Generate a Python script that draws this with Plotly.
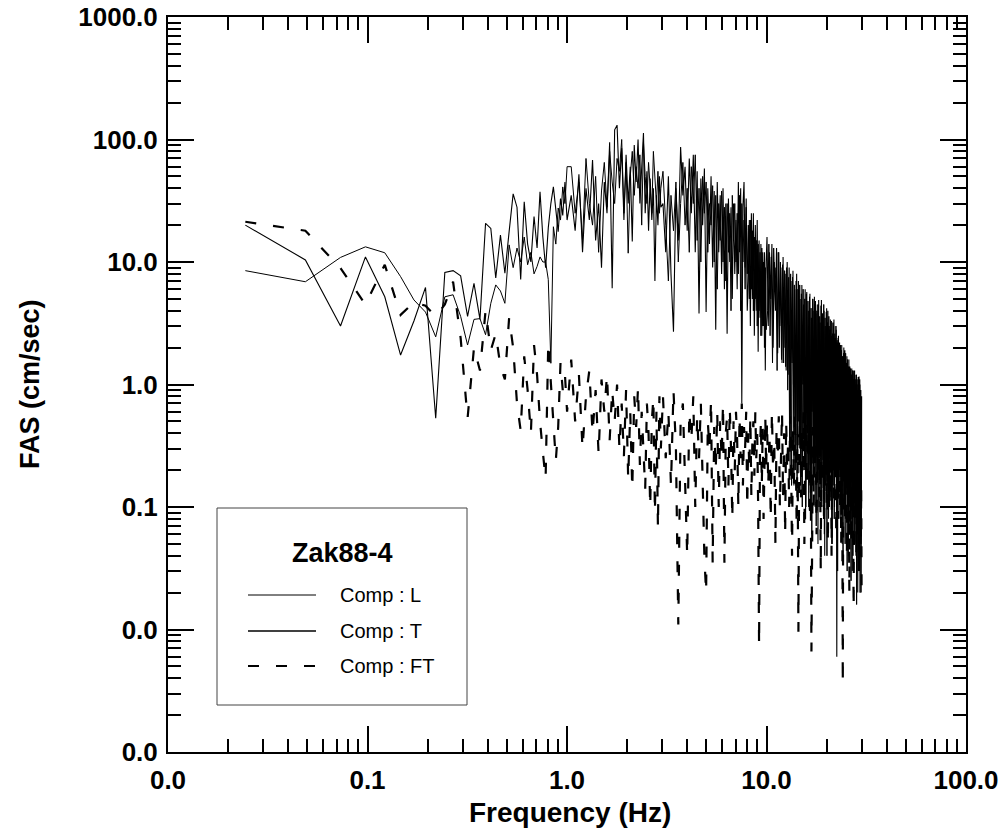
import plotly.graph_objects as go

# ---------------- data ----------------
DF = 1 / 40.96  # FFT frequency step (Hz)

# frequency-bin indices of the sampled spectral points
IDX_1 = list(range(1, 42))          # 0.024 - 1.0 Hz
IDX_2 = list(range(43, 122, 2))     # 1.05 - 2.95 Hz
IDX_3 = list(range(124, 409, 4))    # 3.0 - 9.96 Hz
IDX_4 = list(range(412, 1229, 6))   # 10 - 30 Hz
IDX_4B = list(range(415, 1226, 6))  # 10 - 30 Hz (offset bins)

# Comp : T  (cm/sec)
T_1 = [20, 10.4, 3.0, 11, 5.2, 1.74, 3.3, 6.2, 0.53, 8.2, 8.5, 7.7, 3.6, 6.7, 3.4,
       20.7, 18.8, 7.4, 16.6, 8.1, 17.7, 36, 28, 7.2, 31, 14, 10, 23.5, 13, 37.5,
       16, 9, 19, 30, 41, 28, 17.7, 33, 24, 45, 22]
T_2 = [35, 18, 52, 12, 40, 22, 68, 15, 30, 9,
       45, 25, 95, 6.1, 120, 131, 40, 85, 22, 75,
       30, 60, 14.7, 90, 45, 100, 30, 70, 113, 25,
       55, 18, 48, 22, 40, 7, 35, 20, 50, 28]
T_3 = [30, 12, 50, 8, 2.7, 40, 15, 87, 35, 60, 18, 70, 25, 75, 12, 55,
       3.8, 48, 20, 58, 3.9, 40, 14, 50, 9, 38, 2.8, 45, 12, 35, 8, 40,
       6, 30, 2.6, 33, 10, 28, 5, 30, 8, 22, 6, 45, 12, 40, 0.7, 28,
       45, 9, 33, 4, 7, 22, 3, 25, 5, 25, 2.5, 20, 4, 22, 1.85, 15,
       3.5, 14, 2.5, 12, 3, 12, 1.3, 10]
T_4 = [16, 3, 12, 5, 14, 2, 10, 4, 13, 1.8,
       12, 3, 9, 1.5, 11, 2, 8, 1.3, 10, 1.2,
       9, 0.2, 7, 1.5, 8.5, 0.15, 6, 0.5, 8, 0.25,
       7, 0.3, 5, 0.12, 6.5, 1, 4.5, 0.2, 6, 0.1,
       5.7, 0.4, 4, 0.15, 5.5, 0.08, 3.5, 0.6, 5, 0.2,
       5.2, 0.1, 3.8, 0.3, 4.5, 0.05, 4.9, 0.25, 3.2, 0.12,
       4.9, 0.3, 3.5, 0.1, 4, 0.04, 3, 0.2, 4.2, 0.15,
       4, 0.08, 3, 0.3, 3.4, 0.12, 2.5, 0.05, 3.2, 0.2,
       3.4, 0.1, 2.4, 0.25, 2.8, 0.006, 2.2, 0.15, 2.5, 0.08,
       2.2, 0.3, 1.8, 0.1, 2.1, 0.05, 1.6, 0.2, 2, 0.12,
       1.9, 0.08, 1.5, 0.25, 1.7, 0.1, 1.3, 0.04, 1.6, 0.15,
       1.4, 0.06, 1.2, 0.2, 1.35, 0.03, 1.1, 0.1, 1.3, 0.05,
       1.3, 0.12, 1, 0.04, 1.2, 0.08, 0.9, 0.02, 1.15, 0.1,
       1.16, 0.03, 1, 0.06, 0.9, 0.02, 0.8]

# Comp : L  (cm/sec)
L_1 = [8.5, 6.9, 10.9, 13.3, 11.9, 7.6, 4.9, 3.9, 2.45, 5.2, 5.4, 3.6, 2.1, 3.4,
       3.45, 2.55, 4.6, 6.5, 5.8, 4.6, 13.8, 9, 13, 10, 16, 9.5, 12, 8, 9.2, 11,
       10, 10, 7.2, 1.49, 19.4, 14, 27.6, 22, 41, 30, 60]
L_2 = [60, 25, 45, 15, 70, 30, 20, 50, 12, 38,
       65, 28, 80, 45, 30, 70, 55, 100, 25, 65,
       11.8, 50, 80, 35, 60, 40, 75, 20, 95, 50,
       30, 65, 40, 25, 80, 45, 30, 55, 25, 40]
L_3 = [55, 20, 7, 35, 18, 45, 10, 30, 65, 20, 40, 12, 60, 30, 75, 15,
       40, 10, 50, 25, 45, 12, 30, 20, 42, 10, 35, 6, 30, 15, 38, 10,
       28, 7, 30, 12, 25, 4, 35, 15, 30, 10, 25, 8, 35, 4, 30, 10,
       22, 6, 28, 8, 20, 5, 22, 6, 18, 4, 16, 5, 15, 3, 14, 4,
       12, 2.5, 13, 3, 10, 2, 9, 2.8]
L_4 = [4, 14, 2.5, 11, 1.5, 13, 6, 9, 1.3, 12,
       2, 10, 1.6, 9.5, 1.5, 8.5, 1.4, 9, 0.9, 7.5,
       0.3, 8, 0.15, 7.5, 1, 6.5, 0.2, 7, 0.12, 6,
       0.5, 6.5, 0.15, 5.5, 0.1, 6, 0.3, 5, 0.08, 5.5,
       0.2, 4.8, 0.1, 5.2, 0.35, 4.2, 0.06, 5, 0.15, 4,
       0.25, 4.8, 0.07, 4, 0.18, 4.5, 0.1, 3.6, 0.3, 4.4,
       0.1, 3.8, 0.2, 4.5, 0.06, 3.5, 0.15, 3.9, 0.04, 3.2,
       0.2, 3.6, 0.1, 2.8, 0.25, 3.3, 0.05, 2.6, 0.15, 3,
       0.08, 2.6, 0.2, 3, 0.1, 2.3, 0.03, 2.4, 0.12, 2,
       0.2, 2.1, 0.07, 1.9, 0.15, 1.7, 0.04, 1.8, 0.1, 1.6,
       0.05, 1.8, 0.15, 1.5, 0.03, 1.6, 0.1, 1.4, 0.06, 1.3,
       0.12, 1.35, 0.025, 1.2, 0.08, 1.3, 0.04, 1.1, 0.15, 1.25,
       0.05, 1.1, 0.1, 1.2, 0.016, 1.0, 0.06, 1.1, 0.03, 0.95,
       0.1, 1.1, 0.02, 0.9, 0.05, 0.7]

# Comp : FT  (cm/sec)
FT_1 = [21.3, 18, 8.9, 4.5, 9.5, 3.7, 4.7, 4.4, 3.6, 4.5, 6.9, 2.4, 0.53, 2.0,
        1.3, 4.0, 1.9, 2.6, 1.4, 1.1, 3.5, 2.0, 0.7, 0.42, 1.7, 0.9, 0.4, 2.1,
        1.2, 0.5, 0.28, 0.17, 2.2, 1.0, 0.45, 0.24, 0.45, 1.5, 0.9, 1.2, 0.6]
FT_2 = [1.6, 0.5, 1.2, 0.3, 0.8, 1.3, 0.4, 0.9, 0.27, 1.1,
        0.6, 1.2, 0.35, 0.9, 0.5, 1.0, 0.3, 0.7, 0.26, 0.9,
        0.17, 0.6, 0.14, 0.8, 0.45, 0.95, 0.22, 0.6, 0.3, 0.14,
        0.7, 0.4, 0.1, 0.5, 0.78, 0.09, 0.6, 0.067, 0.8, 0.3]
FT_3 = [0.8, 0.25, 0.6, 0.15, 0.9, 0.3, 0.011, 0.5, 0.7, 0.2,
        0.04, 0.6, 0.35, 0.8, 0.1, 0.55, 0.25, 0.7, 0.15, 0.039,
        0.02, 0.5, 0.3, 0.75, 0.035, 0.45, 0.2, 0.6, 0.1, 0.5,
        0.25, 0.7, 0.035, 0.4, 0.55, 0.15, 0.65, 0.3, 0.08, 0.5,
        0.2, 0.6, 0.35, 0.1, 0.55, 0.25, 0.7, 0.15, 0.45, 0.3,
        0.6, 0.1, 0.4, 0.2, 0.55, 0.12, 0.35, 0.5, 0.18, 0.6,
        0.25, 0.4, 0.1, 0.0074, 0.3, 0.5, 0.15, 0.45, 0.08, 0.35,
        0.55, 0.2]
FT_4 = [0.5, 0.15, 0.4, 0.08, 0.6, 0.2, 0.35, 0.05, 0.45, 0.25,
        0.55, 0.1, 0.3, 0.6, 0.12, 0.4, 0.06, 0.5, 0.2, 0.35,
        0.1, 0.55, 0.25, 0.04, 0.45, 0.15, 0.6, 0.3, 0.07, 0.4,
        0.0096, 0.35, 0.5, 0.12, 0.45, 0.2, 0.6, 0.05, 0.3, 0.5,
        0.15, 0.4, 0.25, 0.55, 0.08, 0.35, 0.0066, 0.3, 0.45, 0.1,
        0.5, 0.2, 0.35, 0.06, 0.4, 0.25, 0.6, 0.12, 0.3, 0.03,
        0.45, 0.15, 0.5, 0.25, 0.07, 0.4, 0.2, 0.55, 0.1, 0.35,
        0.05, 0.45, 0.2, 0.5, 0.12, 0.3, 0.04, 0.4, 0.25, 0.6,
        0.1, 0.35, 0.15, 0.45, 0.06, 0.3, 0.5, 0.08, 0.4, 0.2,
        0.35, 0.1, 0.45, 0.05, 0.3, 0.15, 0.0036, 0.4, 0.2, 0.35,
        0.08, 0.5, 0.15, 0.3, 0.04, 0.45, 0.2, 0.35, 0.06, 0.02,
        0.3, 0.12, 0.4, 0.05, 0.35, 0.1, 0.25, 0.03, 0.015, 0.3,
        0.08, 0.4, 0.12, 0.3, 0.04, 0.35, 0.06, 0.25, 0.1, 0.3,
        0.05, 0.25, 0.08, 0.2, 0.04, 0.15, 0.017]

STATION = "Zak88-4"
LEGEND_LABELS = ["Comp : L", "Comp : T", "Comp : FT"]
X_TITLE = "Frequency (Hz)"
Y_TITLE = "FAS (cm/sec)"


def freqs(idx):
    return [i * DF for i in idx]


x_T = freqs(IDX_1 + IDX_2 + IDX_3 + IDX_4)
y_T = T_1 + T_2 + T_3 + T_4
x_L = freqs(IDX_1 + IDX_2 + IDX_3 + IDX_4B)
y_L = L_1 + L_2 + L_3 + L_4
x_FT = freqs(IDX_1 + IDX_2 + IDX_3 + IDX_4)
y_FT = FT_1 + FT_2 + FT_3 + FT_4

# ---------------- figure ----------------
W, H = 1006, 829
ML, MR, MT, MB = 168, 40, 17, 77
PW, PH = W - ML - MR, H - MT - MB

FONT = "Liberation Sans, Arial, sans-serif"
DASH = "11px,17px"


def px(xp):
    return (xp - ML) / PW


def py(yp):
    return (H - MB - yp) / PH


fig = go.Figure()
fig.add_trace(go.Scatter(x=x_L, y=y_L, mode="lines", name=LEGEND_LABELS[0],
                         line=dict(color="black", width=1)))
fig.add_trace(go.Scatter(x=x_T, y=y_T, mode="lines", name=LEGEND_LABELS[1],
                         line=dict(color="black", width=1.1)))
fig.add_trace(go.Scatter(x=x_FT, y=y_FT, mode="lines", name=LEGEND_LABELS[2],
                         line=dict(color="black", width=2.2, dash=DASH)))

axis_common = dict(
    type="log", showline=True, linecolor="black", linewidth=2,
    mirror="allticks", ticks="inside", ticklen=26, tickwidth=2,
    tickcolor="black", dtick=1, tickformat=".1f", showgrid=False,
    zeroline=False, automargin=False,
    tickfont=dict(family=FONT, size=26, color="black", weight="bold"),
    minor=dict(ticks="inside", ticklen=13, tickwidth=2, tickcolor="black",
               dtick="D1", showgrid=False),
)

fig.update_layout(
    width=W, height=H,
    margin=dict(l=ML, r=MR, t=MT, b=MB, pad=0, autoexpand=False),
    paper_bgcolor="white", plot_bgcolor="white",
    showlegend=False,
    font=dict(family=FONT, color="black"),
    xaxis=dict(range=[-2, 2], ticklabelstandoff=4, **axis_common),
    yaxis=dict(range=[-3, 3], ticklabelstandoff=3, **axis_common),
)

# axis titles
fig.add_annotation(text=Y_TITLE, xref="paper", yref="paper", x=px(30), y=py(384),
                   textangle=-90, showarrow=False, xanchor="center", yanchor="middle",
                   font=dict(family=FONT, size=27, weight="bold", color="black"))
fig.add_annotation(text=X_TITLE, xref="paper", yref="paper", x=px(570), y=py(812),
                   showarrow=False, xanchor="center", yanchor="middle",
                   font=dict(family=FONT, size=28, weight="bold", color="black"))

# legend box
fig.add_shape(type="rect", xref="paper", yref="paper",
              x0=px(217), x1=px(467), y0=py(705), y1=py(508),
              line=dict(color="#444444", width=1), fillcolor="white", layer="above")
fig.add_annotation(text=STATION, xref="paper", yref="paper", x=px(342), y=py(553),
                   showarrow=False, xanchor="center", yanchor="middle",
                   font=dict(family=FONT, size=27, weight="bold", color="black"))
leg_rows = [(595, 1, "solid"), (631, 1.3, "solid"), (666, 2.2, DASH)]
for (yy, lw, dsh), lab in zip(leg_rows, LEGEND_LABELS):
    fig.add_shape(type="line", xref="paper", yref="paper",
                  x0=px(248), x1=px(316), y0=py(yy), y1=py(yy),
                  line=dict(color="black", width=lw, dash=dsh), layer="above")
    fig.add_annotation(text=lab, xref="paper", yref="paper", x=px(338), y=py(yy),
                       showarrow=False, xanchor="left", yanchor="middle",
                       font=dict(family=FONT, size=20, color="black"))

fig.write_html("out.html")
